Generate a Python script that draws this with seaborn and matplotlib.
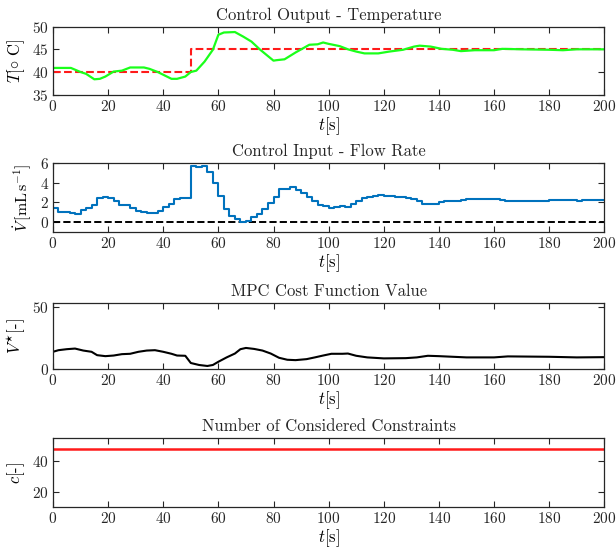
import numpy as np
import pandas as pd
import matplotlib
matplotlib.use("Agg")
import matplotlib.pyplot as plt
import seaborn as sns

# --- temperature (control output) ---
t_temp = [0, 6.5, 10, 12, 15, 17, 19, 22, 25, 28, 33, 35, 38, 43, 45, 48, 50, 52, 55, 58,
          60, 62, 66, 69, 72, 75, 80, 81, 84, 88, 93, 96, 98, 100, 104, 107, 110, 113, 118,
          122, 127, 131, 133, 137, 141, 145, 148, 153, 160, 163, 170, 180, 185, 190, 200]
temp = [40.9, 40.9, 40.0, 39.6, 38.4, 38.5, 39.0, 40.1, 40.3, 41.0, 41.0, 40.7, 40.0, 38.5,
        38.5, 39.0, 40.0, 40.3, 42.3, 44.9, 48.2, 48.7, 48.8, 47.8, 46.7, 45.0, 42.5, 42.6,
        42.8, 44.3, 46.0, 46.1, 46.5, 46.2, 45.7, 45.0, 44.5, 44.1, 44.1, 44.5, 44.9, 45.6,
        45.8, 45.6, 45.1, 44.9, 44.6, 44.8, 44.8, 45.1, 45.0, 44.9, 44.8, 45.0, 45.0]
t_ref = [0, 50, 200]
temp_ref = [40, 45, 45]

# --- flow rate (control input), held for 2 s ---
t_flow = list(range(0, 202, 2))
flow = [1.40, 1.06, 1.00, 0.93, 0.82, 1.23, 1.44, 1.75, 2.43, 2.53,
        2.43, 2.12, 1.71, 1.71, 1.44, 1.13, 1.00, 0.93, 0.93, 1.16,
        1.50, 1.88, 2.36, 2.46, 2.43, 5.65, 5.60, 5.70, 5.10, 3.94,
        2.64, 1.34, 0.65, 0.30, 0.00, 0.17, 0.50, 0.86, 1.34, 1.95,
        2.57, 3.32, 3.40, 3.53, 3.25, 3.00, 2.57, 2.12, 1.78, 1.68,
        1.43, 1.53, 1.60, 1.50, 1.88, 2.15, 2.46, 2.60, 2.66, 2.73,
        2.70, 2.63, 2.53, 2.53, 2.46, 2.39, 2.18, 1.88, 1.81, 1.88,
        2.01, 2.12, 2.15, 2.18, 2.29, 2.32, 2.32, 2.30, 2.30, 2.30,
        2.30, 2.29, 2.15, 2.15, 2.14, 2.15, 2.15, 2.16, 2.16, 2.18,
        2.22, 2.25, 2.25, 2.24, 2.25, 2.18, 2.22, 2.22, 2.20, 2.20, 2.20]
flow_min = [0, 0]
t_min = [0, 200]

# --- MPC cost ---
t_cost = [0, 2, 5, 8, 11, 14, 16, 19, 22, 25, 28, 31, 34, 37, 40, 43, 45, 48, 50, 53,
          56, 58, 60, 63, 66, 68, 70, 73, 76, 79, 82, 85, 88, 92, 95, 98, 101, 105, 107,
          110, 114, 120, 128, 132, 136, 140, 145, 150, 160, 165, 180, 190, 200]
cost = [13.8, 15.1, 15.9, 16.4, 14.8, 13.8, 11.1, 10.3, 10.8, 11.9, 12.2, 13.8, 14.8, 15.1,
        13.8, 12.2, 10.8, 10.6, 4.8, 3.2, 2.4, 3.2, 5.8, 9.3, 12.4, 15.9, 16.9, 16.1, 14.8,
        12.4, 9.0, 7.4, 7.1, 7.9, 9.3, 10.8, 12.2, 12.2, 12.4, 10.6, 9.3, 8.5, 8.7, 9.3,
        10.6, 10.3, 9.8, 9.3, 9.3, 10.1, 9.8, 9.3, 9.5]

# --- constraints ---
t_con = [0, 200]
n_con = [48, 48]

sns.set_theme(style="ticks")
plt.rcParams["font.family"] = ["serif"]
plt.rcParams["font.serif"] = ["cmr10", "DejaVu Serif"]
plt.rcParams["mathtext.fontset"] = "cm"
plt.rcParams["axes.formatter.use_mathtext"] = True
plt.rcParams["axes.unicode_minus"] = False

fig = plt.figure(figsize=(6.16, 5.54), dpi=100)
left, width = 0.086, 0.895
rects = [(0.829, 0.123), (0.581, 0.125), (0.334, 0.119), (0.085, 0.124)]
axes = [fig.add_axes([left, b, width, h]) for b, h in rects]
edge = "#262626"
fs = 11
tfs = 12
yfs = 12

ax = axes[0]
sns.lineplot(x=t_ref, y=temp_ref, ax=ax, color="#ff1a1a", linestyle="--",
             linewidth=1.5, drawstyle="steps-post")
sns.lineplot(x=t_temp, y=temp, ax=ax, color="#1aff1a", linewidth=1.6)
ax.set_ylim(35, 50)
ax.set_yticks([35, 40, 45, 50])
ax.set_title("Control Output - Temperature", fontsize=tfs, pad=5)
ax.set_ylabel(r"$T[\circ\ \mathrm{C}]$", fontsize=yfs)

ax = axes[1]
sns.lineplot(x=t_min, y=flow_min, ax=ax, color="black", linestyle="--", linewidth=1.4)
sns.lineplot(x=t_flow, y=flow, ax=ax, color="#0072BD", linewidth=1.5,
             drawstyle="steps-post")
ax.set_ylim(-1, 6)
ax.set_yticks([0, 2, 4, 6])
ax.set_title("Control Input - Flow Rate", fontsize=tfs, pad=5)
ax.set_ylabel(r"$\dot{V}\,[\mathrm{mL\,s}^{-1}]$", fontsize=11.5)

ax = axes[2]
sns.lineplot(x=t_cost, y=cost, ax=ax, color="black", linewidth=1.5)
ax.set_ylim(0, 53)
ax.set_yticks([0, 50])
ax.set_title("MPC Cost Function Value", fontsize=tfs, pad=5)
ax.set_ylabel(r"$V^{\star}[$-$]$", fontsize=yfs)

ax = axes[3]
sns.lineplot(x=t_con, y=n_con, ax=ax, color="#ff1a1a", linewidth=1.8)
ax.set_ylim(10, 55)
ax.set_yticks([20, 40])
ax.set_title("Number of Considered Constraints", fontsize=tfs, pad=5)
ax.set_ylabel(r"$c[$-$]$", fontsize=yfs)

for ax in axes:
    ax.set_xlim(0, 200)
    ax.set_xticks(range(0, 201, 20))
    ax.set_xlabel(r"$t[\mathrm{s}]$", fontsize=yfs, labelpad=1)
    ax.tick_params(direction="in", top=True, right=True, length=4, width=0.8,
                   labelsize=fs, colors=edge, pad=3)
    for s in ax.spines.values():
        s.set_color(edge)
        s.set_linewidth(0.9)
    ax.yaxis.label.set_color("black")
    ax.xaxis.label.set_color("black")

fig.savefig("out.png", dpi=100)
